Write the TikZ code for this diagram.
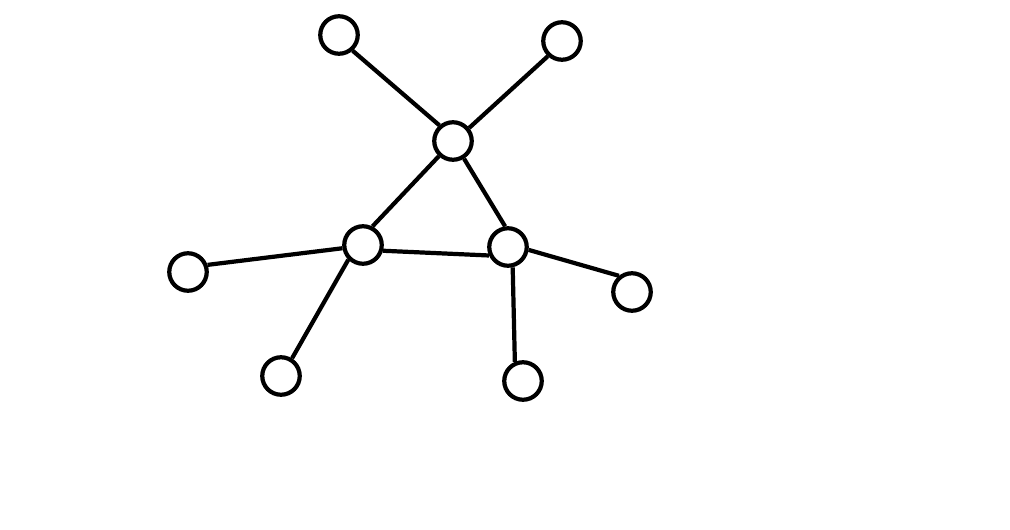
\documentclass[tikz,border=0pt]{standalone}
\begin{document}
\begin{tikzpicture}[x=0.02cm,y=-0.02cm,
  vert/.style={circle,draw=black,fill=white,line width=2.4pt,minimum size=0.75cm,inner sep=0pt},
  edge/.style={line width=2.4pt}]
\useasboundingbox (0,0) rectangle (1010,530);
\node[vert] (n1) at (339,35) {};
\node[vert] (n2) at (562,41) {};
\node[vert] (c) at (453,141) {};
\node[vert] (a) at (363,245) {};
\node[vert] (b) at (508,247) {};
\node[vert] (l) at (188,272) {};
\node[vert] (r) at (632,292) {};
\node[vert] (bl) at (281,376) {};
\node[vert] (br) at (523,381) {};
\draw[edge] (n1.-49) -- (c.131);
\draw[edge] (n2.-133) -- (c.39);
\draw[edge] (c.-133) -- (a.63);
\draw[edge] (c.-58) -- (b.98);
\draw[edge] (a.-16) -- (b.-156);
\draw[edge] (a.-171) -- (l.20);
\draw[edge] (a.-135) -- (bl.58);
\draw[edge] (b.-8) -- (r.129);
\draw[edge] (b.-77) -- (br.113);
\end{tikzpicture}
\end{document}
